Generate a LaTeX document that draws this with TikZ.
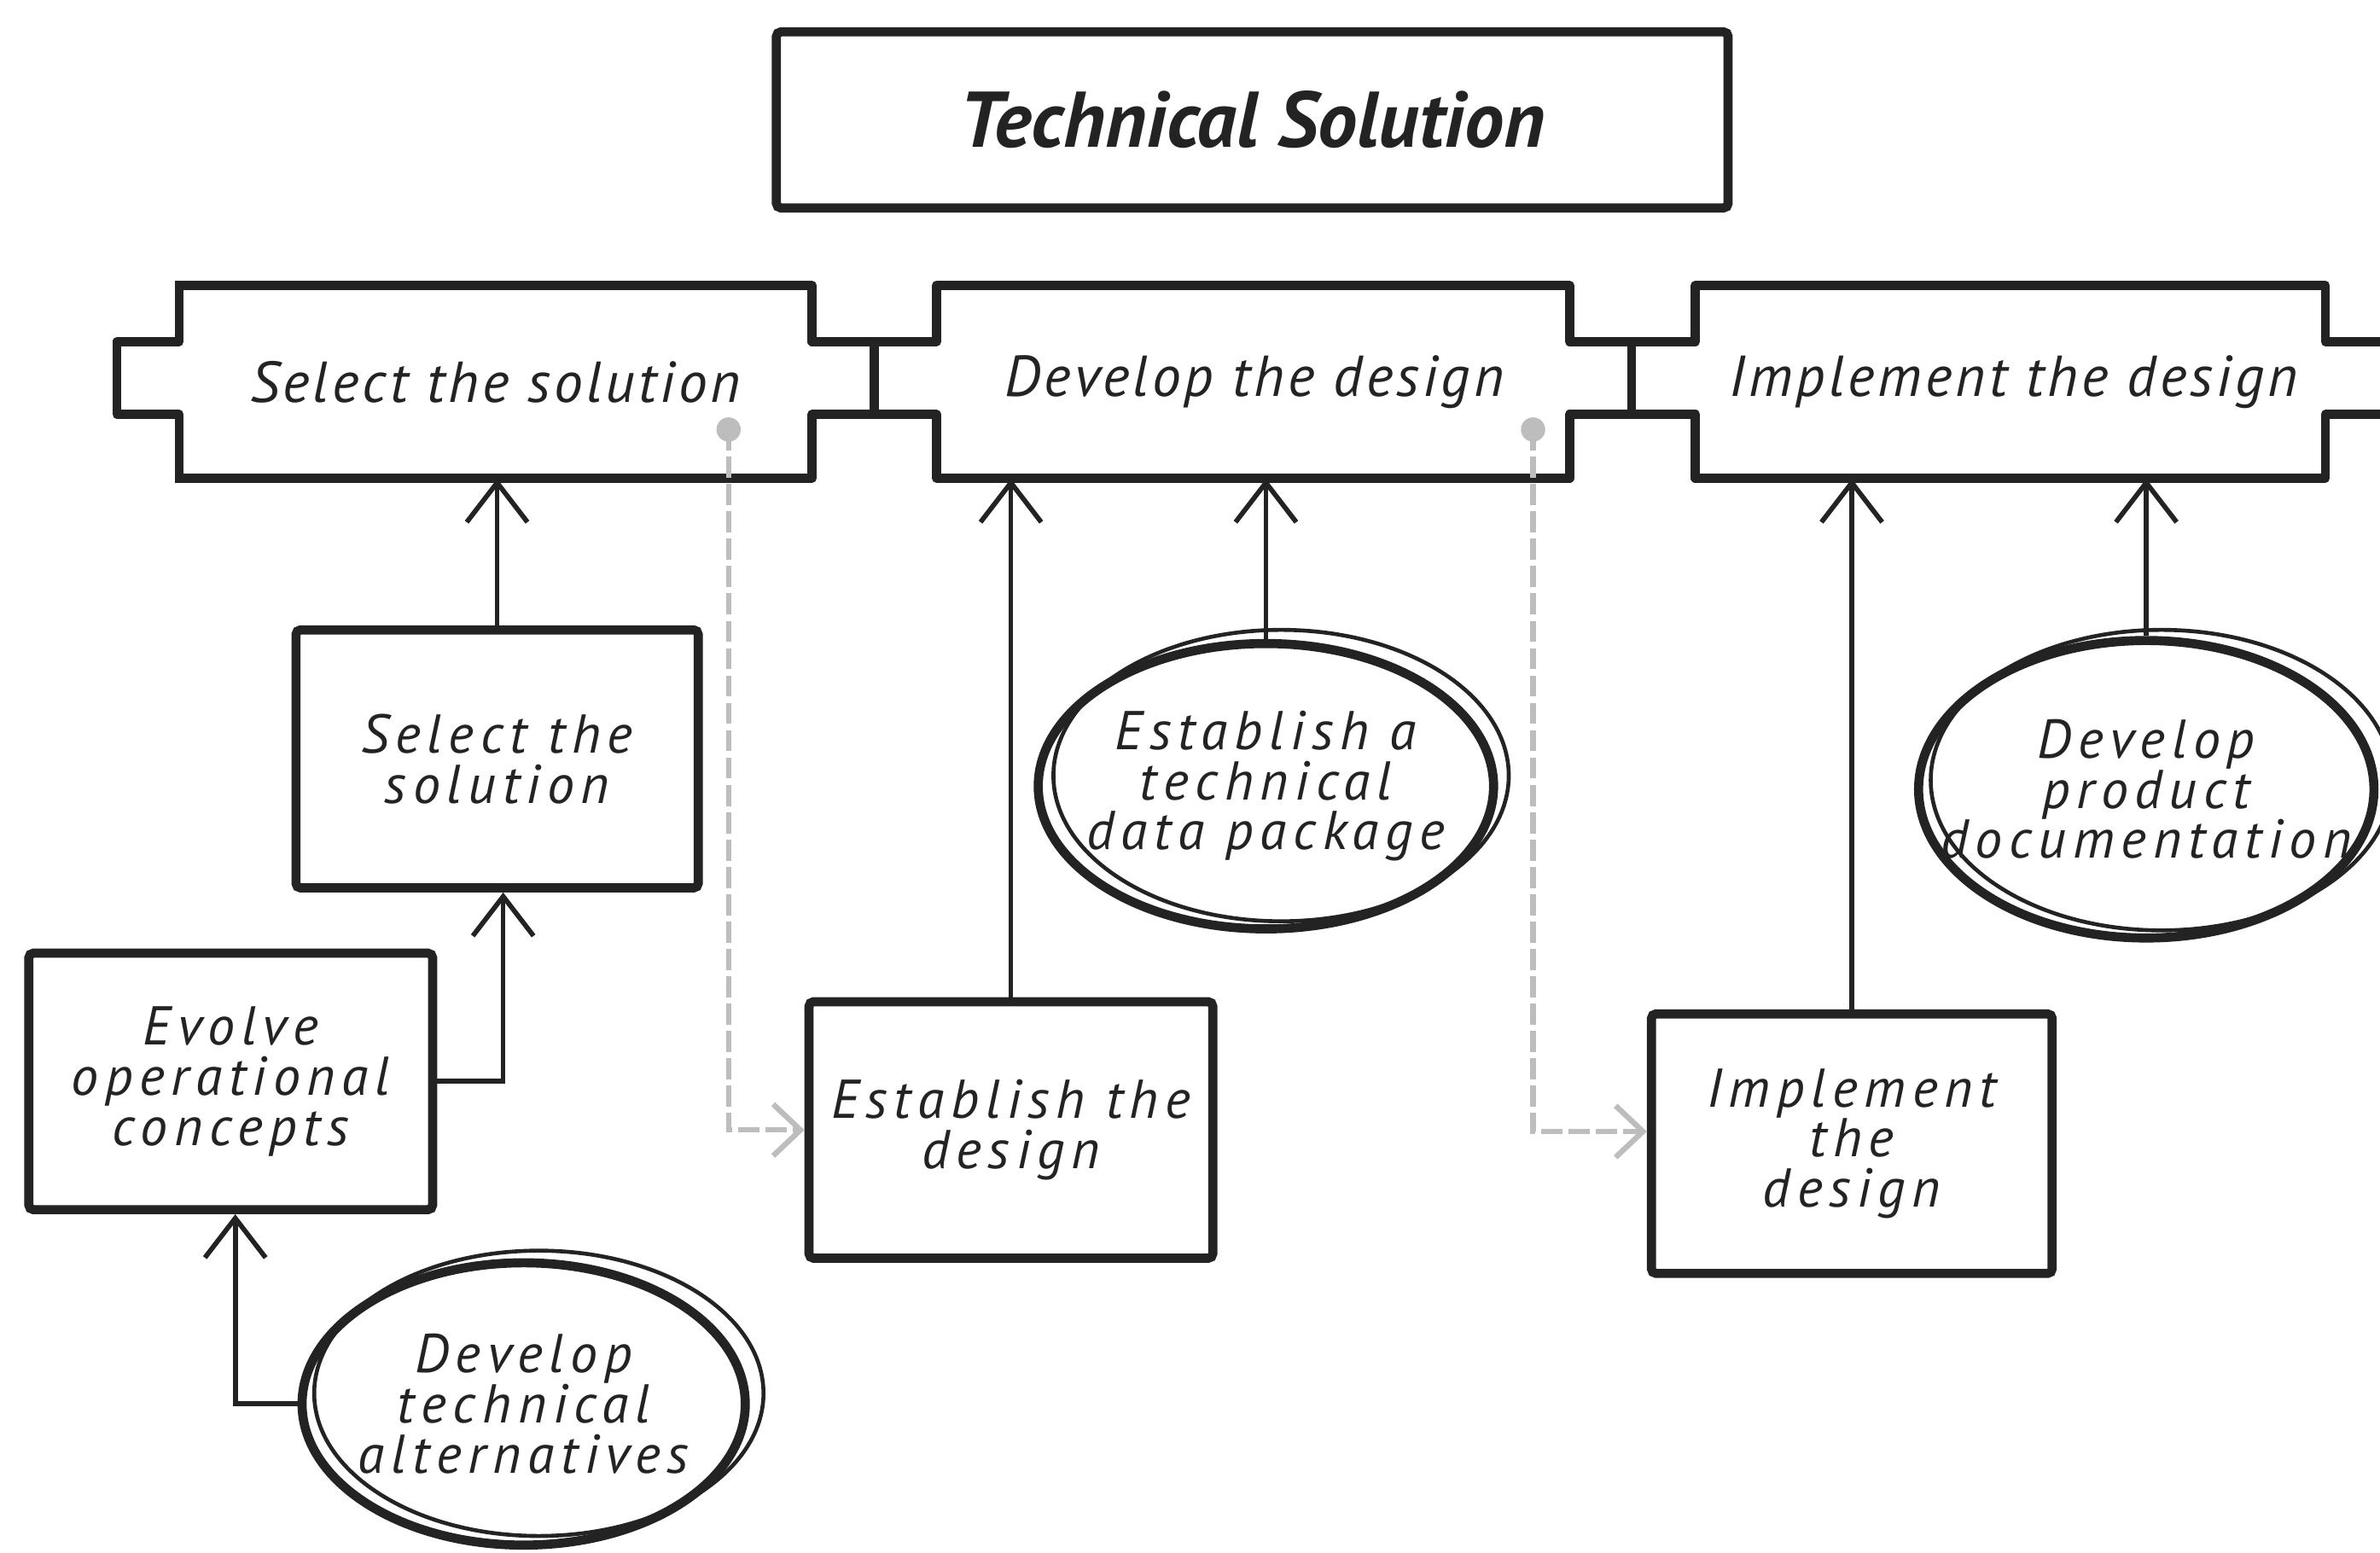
\documentclass[tikz,border=0pt]{standalone}
\usepackage{fontspec}
\setmainfont{PT Sans}
\newfontfamily\hand{PT Sans}[LetterSpace=12]
\newfontfamily\handrow{PT Sans}[LetterSpace=6]
\usetikzlibrary{arrows.meta,shapes.geometric,calc}
\definecolor{ink}{HTML}{232323}
\definecolor{faint}{HTML}{BDBDBD}
\tikzset{
  x=0.5pt, y=-0.5pt,
  frame/.style={draw=ink, line width=3pt, rectangle, rounded corners=1.5pt, fill=white, inner sep=0pt},
  task/.style={frame, align=center, text=ink,
    font=\hand\itshape\fontsize{18}{16.5}\selectfont},
  stage/.style={inner sep=0pt, text=ink, font=\handrow\itshape\fontsize{19}{20}\selectfont},
  oval/.style={draw=ink, line width=3pt, ellipse, inner sep=0pt},
  ovaltext/.style={align=center, text=ink, inner sep=0pt,
    font=\hand\itshape\fontsize{18}{16.5}\selectfont},
  ghost/.style={draw=ink, line width=1.3pt},
  link/.style={draw=ink, line width=1.6pt, -{Straight Barb[length=13pt,width=20pt]}},
  flow/.style={draw=faint, line width=1.8pt, dash pattern=on 7pt off 2pt,
    -{Straight Barb[length=9pt,width=17pt]}},
  puzzle/.style={draw=ink, line width=3pt, line join=round, line cap=rect},
}
\begin{document}
\begin{tikzpicture}
\useasboundingbox (0,0) rectangle (1568,1023);

% title
\node[frame, minimum width=313.5pt, minimum height=58pt,
  font=\bfseries\itshape\fontsize{26}{28}\selectfont, text=ink]
  (title) at (825,79) {Technical Solution};

% puzzle-piece stages
\draw[puzzle] (118,188) -- (535,188) -- (535,225) -- (617,225) -- (617,188)
  -- (1034,188) -- (1034,225) -- (1117,225) -- (1117,188) -- (1532,188)
  -- (1532,225) -- (1580,225);
\draw[puzzle] (118,315) -- (535,315) -- (535,273) -- (617,273) -- (617,315)
  -- (1034,315) -- (1034,273) -- (1117,273) -- (1117,315) -- (1532,315)
  -- (1532,273) -- (1580,273);
\draw[puzzle] (118,188) -- (118,225) -- (77,225) -- (77,273) -- (118,273) -- (118,315);
\draw[puzzle] (576,225) -- (576,273);
\draw[puzzle] (1075,225) -- (1075,273);

\node[stage, minimum width=208.5pt, minimum height=63.5pt] (s1) at (326.5,251.5) {Select the solution};
\node[stage, minimum width=208.5pt, minimum height=63.5pt] (s2) at (826.5,251.5) {Develop the design};
\node[stage, minimum width=207.5pt, minimum height=63.5pt] (s3) at (1326.5,251.5) {Implement the design};

% task boxes
\node[task, minimum width=132.5pt, minimum height=85pt] (sel) at (327.5,500) {Select the\\solution};
\node[task, minimum width=133pt, minimum height=84.5pt] (evo) at (152,712.5) {Evolve\\operational\\concepts};
\node[task, minimum width=133pt, minimum height=84.5pt] (est) at (666,744.5) {Establish the\\design};
\node[task, minimum width=132pt, minimum height=85.5pt] (imp) at (1220,753.5) {Implement\\the\\design};

% sketched ovals
\node[oval, minimum width=146pt, minimum height=93pt] (alt) at (345,925) {};
\draw[ghost] ($(alt.center)+(10,-7)$) ellipse [x radius=74pt, y radius=47pt];
\node[ovaltext] (altt) at (alt.center) {Develop\\technical\\alternatives};

\node[oval, minimum width=150pt, minimum height=94pt] (tdp) at (834,518) {};
\draw[ghost] ($(tdp.center)+(10,-7)$) ellipse [x radius=75pt, y radius=48pt];
\node[ovaltext] (tdpt) at (tdp.center) {Establish a\\technical\\data package};

\node[oval, minimum width=150pt, minimum height=98pt] (doc) at (1414,520) {};
\draw[ghost] ($(doc.center)+(10,-6)$) ellipse [x radius=76pt, y radius=49.5pt];
\node[ovaltext] (doct) at (doc.center) {Develop\\product\\documentation};

% connectors
\draw[link] (sel.north) -- (sel.north |- s1.south);
\draw[link] (evo.east) -| ([xshift=2pt]sel.south);
\draw[link] (alt.west) -| ([xshift=1.5pt]evo.south);
\draw[link] (est.north) -- (est.north |- s2.south);
\draw[link] (tdp.north) -- (tdp.north |- s2.south);
\draw[link] (imp.north) -- (imp.north |- s3.south);
\draw[link] (doc.north) -- (doc.north |- s3.south);

% hand-over flows
\coordinate (h1) at (480,283);
\coordinate (h2) at (1010,283);
\fill[faint] (h1) circle (4pt);
\fill[faint] (h2) circle (4pt);
\draw[flow] (h1) |- (est.west);
\draw[flow] (h2) |- ([yshift=4pt]imp.west);
\end{tikzpicture}
\end{document}
